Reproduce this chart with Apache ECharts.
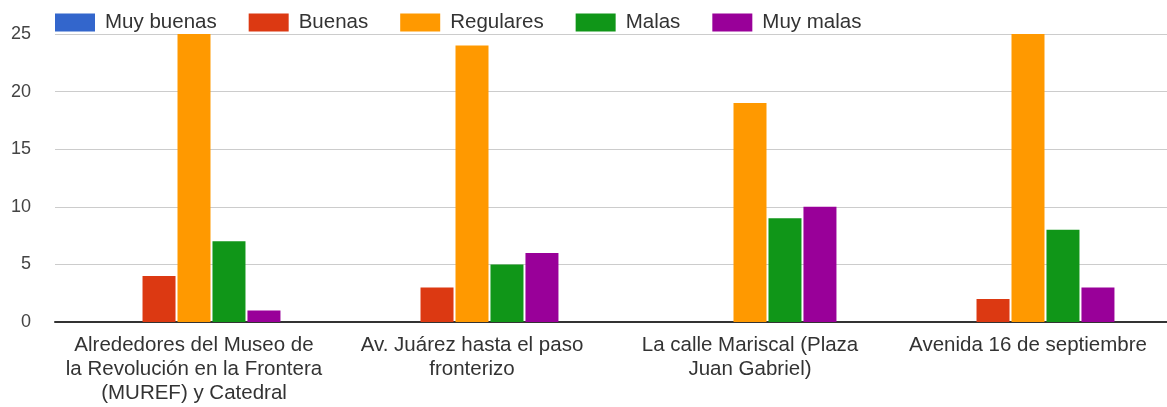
<!DOCTYPE html>
<html>
<head>
<meta charset="utf-8">
<script src="https://cdn.jsdelivr.net/npm/echarts@6/dist/echarts.min.js"></script>
<style>
  html, body { margin: 0; padding: 0; background: #fff; }
  #chart { width: 1167px; height: 407px; }
</style>
</head>
<body>
<div id="chart"></div>
<script>
// categorías (lugares)
var categories = [
  "Alrededores del Museo de\nla Revolución en la Frontera\n(MUREF) y Catedral",
  "Av. Juárez hasta el paso\nfronterizo",
  "La calle Mariscal (Plaza\nJuan Gabriel)",
  "Avenida 16 de septiembre"
];

// valores por serie
var muyBuenas = [0, 0, 0, 0];
var buenas = [4, 3, 0, 2];
var regulares = [25, 24, 19, 25];
var malas = [7, 5, 9, 8];
var muyMalas = [1, 6, 10, 3];

var seriesNames = ["Muy buenas", "Buenas", "Regulares", "Malas", "Muy malas"];
var seriesData = [muyBuenas, buenas, regulares, malas, muyMalas];
var colors = ["#3366cc", "#dc3912", "#ff9900", "#109618", "#990099"];

var myChart = echarts.init(document.getElementById("chart"));

myChart.setOption({
  animation: false,
  color: colors,
  textStyle: { fontFamily: "Liberation Sans, Arial, sans-serif" },
  legend: {
    left: 50,
    top: 7,
    itemWidth: 40,
    itemHeight: 18,
    itemGap: 32,
    icon: "rect",
    textStyle: { color: "#333", fontSize: 20.5, padding: [0, 0, 0, 5] },
    data: seriesNames
  },
  grid: {
    left: 55,
    right: 0,
    top: 34,
    bottom: 85
  },
  xAxis: {
    type: "category",
    data: categories,
    axisTick: { show: false },
    axisLine: { lineStyle: { color: "#333", width: 2 } },
    axisLabel: {
      interval: 0,
      color: "#333",
      fontSize: 20.5,
      lineHeight: 24,
      margin: 11
    }
  },
  yAxis: {
    type: "value",
    min: 0,
    max: 25,
    interval: 5,
    axisLine: { show: false },
    axisTick: { show: false },
    splitLine: { lineStyle: { color: "#cccccc", width: 1 } },
    axisLabel: { color: "#444", fontSize: 18, margin: 24 }
  },
  series: seriesNames.map(function (name, i) {
    return {
      name: name,
      type: "bar",
      data: seriesData[i],
      barWidth: 33,
      barGap: "6%",
      barCategoryGap: "37%"
    };
  })
});
</script>
</body>
</html>
